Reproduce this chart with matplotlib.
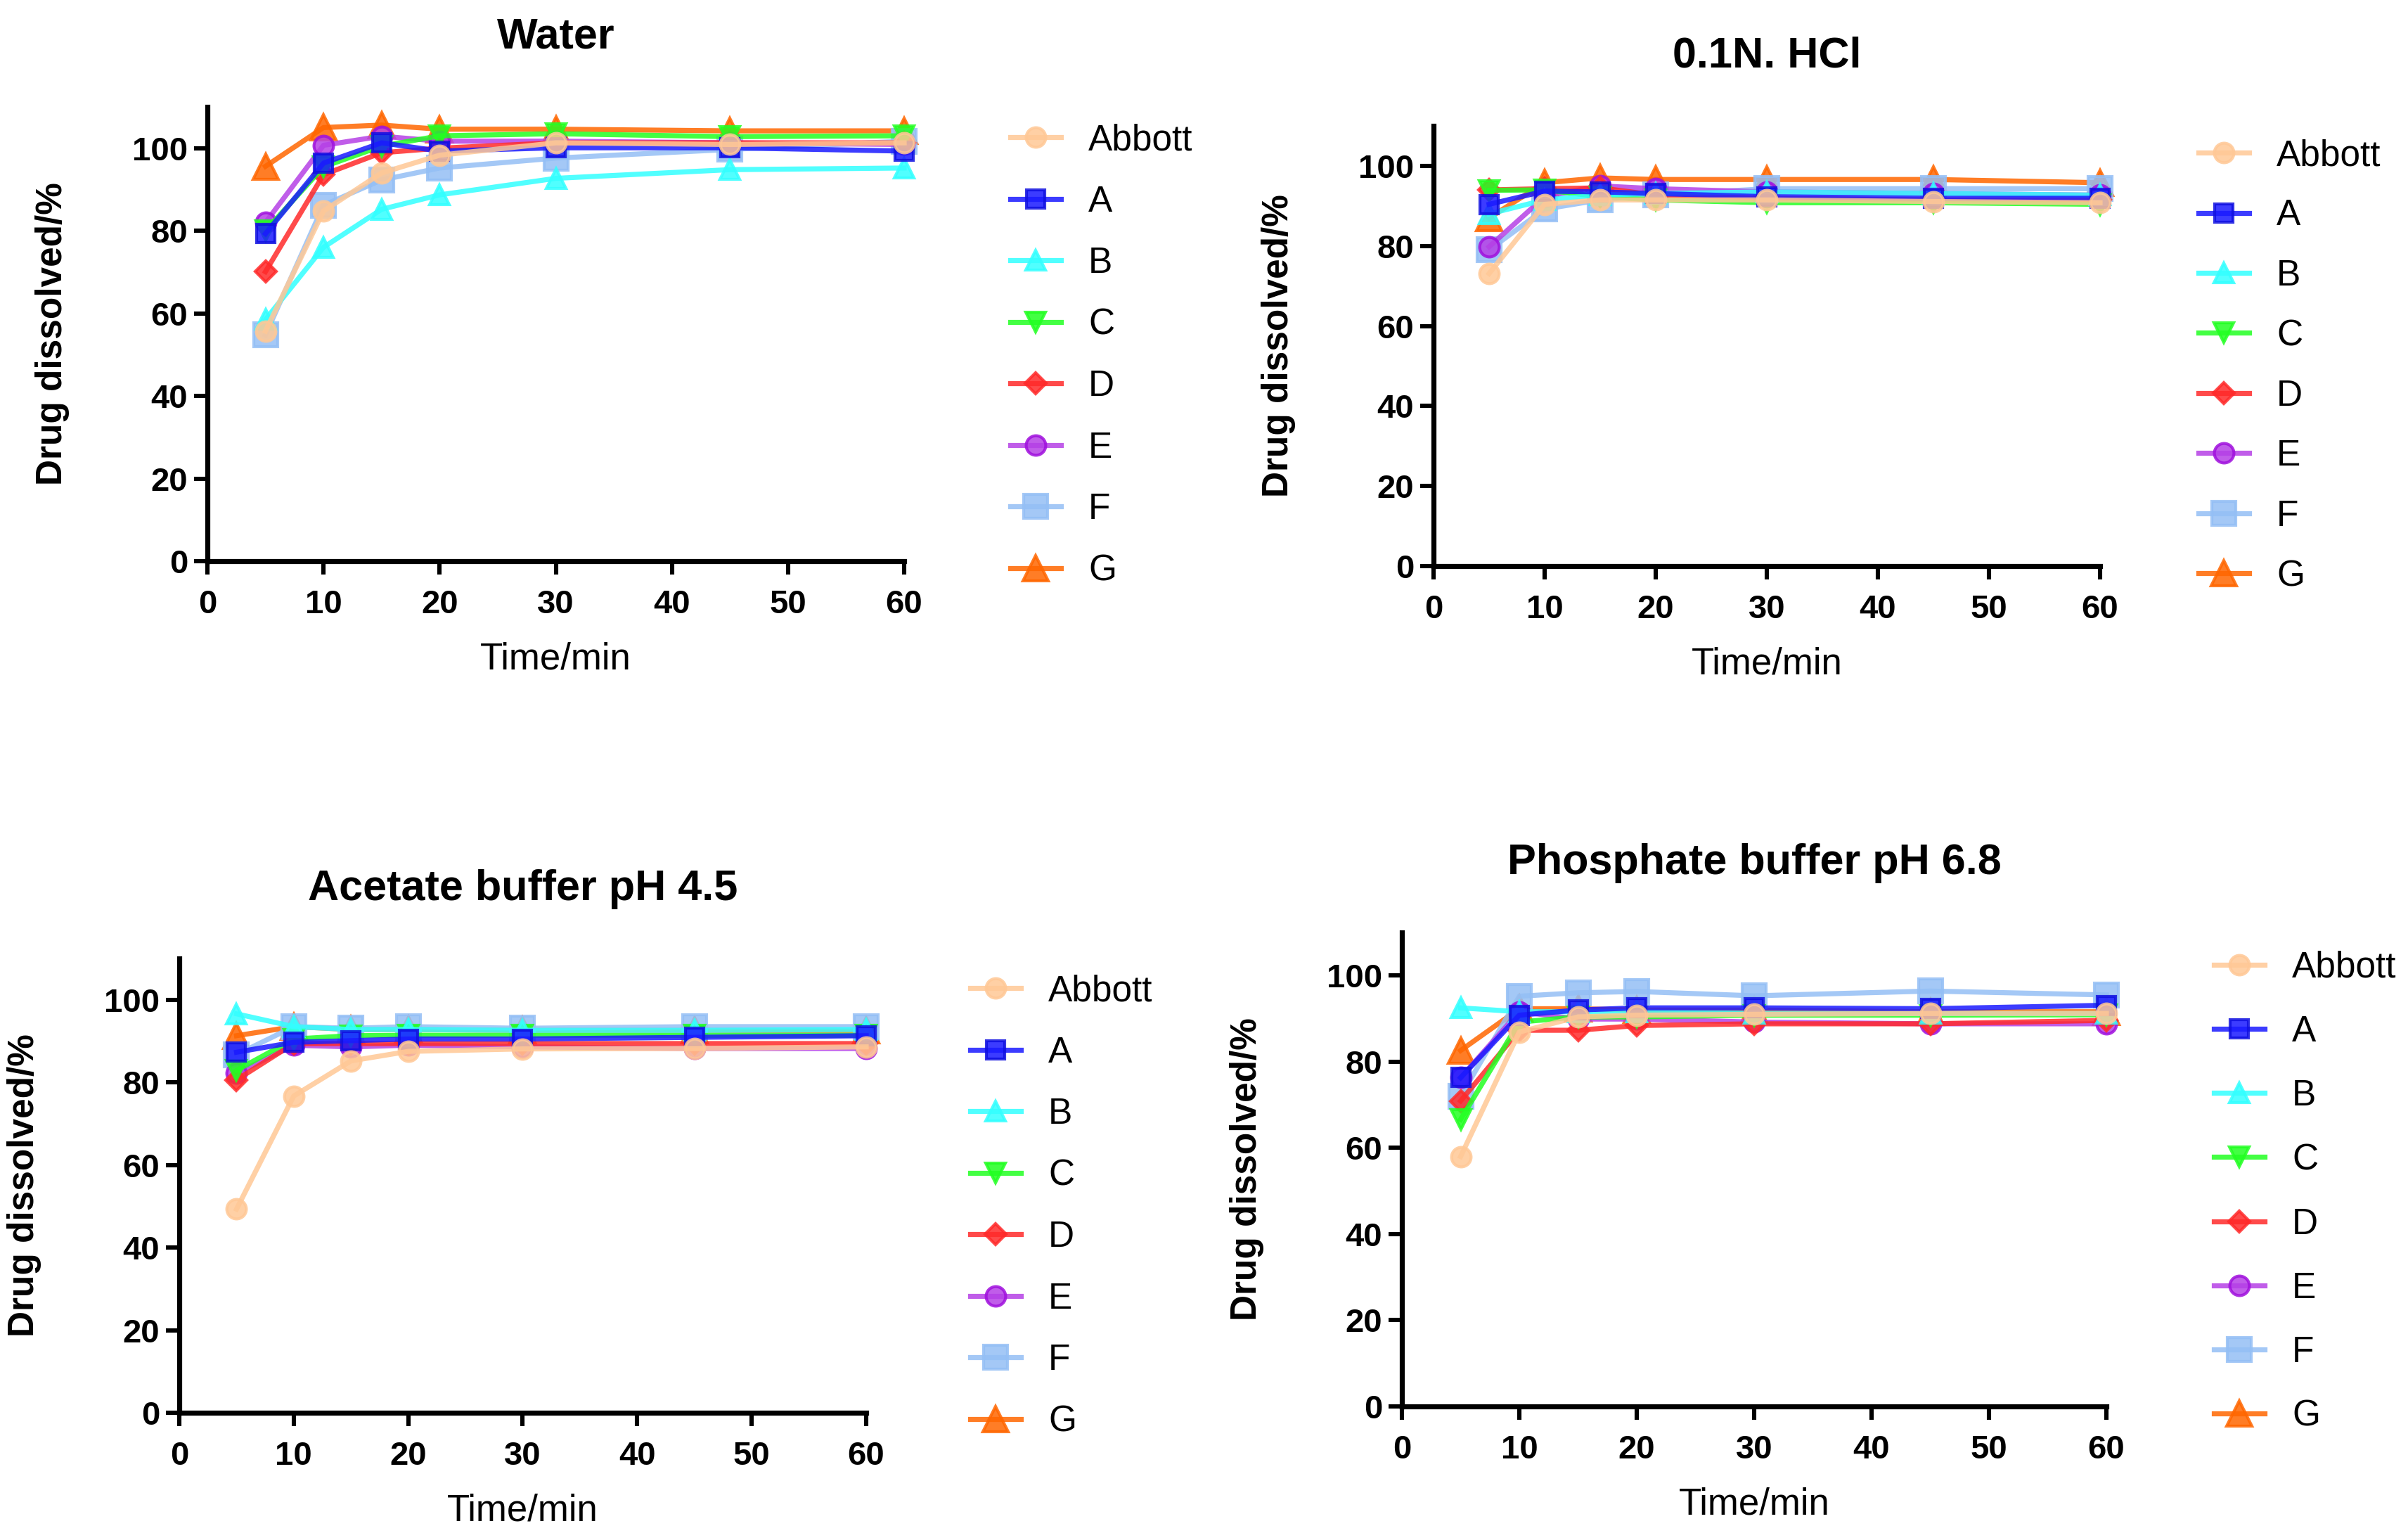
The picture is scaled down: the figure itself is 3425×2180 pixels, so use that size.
import matplotlib
matplotlib.use('Agg')
import matplotlib.pyplot as plt

# 시간(분)
time_min = [5, 10, 15, 20, 30, 45, 60]
names = ['Abbott', 'A', 'B', 'C', 'D', 'E', 'F', 'G']

# Water
water_abbott = [55.7, 84.8, 94.0, 98.3, 101.3, 100.9, 101.3]
water_a = [79.3, 96.4, 101.3, 99.3, 100.1, 100.1, 99.3]
water_b = [58.5, 76.0, 85.2, 88.7, 92.7, 94.8, 95.2]
water_c = [80.0, 95.5, 100.5, 103.0, 103.5, 102.8, 103.0]
water_d = [70.1, 93.6, 98.9, 100.0, 101.3, 101.3, 101.3]
water_e = [82.0, 100.7, 102.9, 101.7, 101.7, 101.3, 100.9]
water_f = [54.8, 86.2, 92.3, 95.2, 97.6, 99.7, 101.7]
water_g = [95.6, 105.0, 105.6, 104.6, 104.6, 104.2, 104.2]

# 0.1N HCl
hcl_abbott = [73.1, 90.4, 91.5, 91.5, 91.5, 91.1, 90.8]
hcl_a = [90.4, 93.7, 93.5, 93.1, 92.3, 91.9, 91.9]
hcl_b = [88.0, 91.5, 92.7, 93.1, 93.5, 93.1, 92.7]
hcl_c = [93.9, 94.0, 92.3, 91.5, 90.8, 90.8, 90.4]
hcl_d = [94.0, 94.3, 94.5, 92.7, 91.9, 91.5, 91.5]
hcl_e = [79.8, 92.3, 95.0, 94.3, 93.5, 93.1, 92.7]
hcl_f = [79.0, 89.2, 91.5, 92.7, 94.3, 94.3, 94.3]
hcl_g = [87.0, 95.8, 97.0, 96.6, 96.6, 96.6, 95.8]

# Acetate buffer pH 4.5
acet_abbott = [49.3, 76.7, 85.2, 87.5, 88.1, 88.2, 88.6]
acet_a = [87.3, 89.7, 90.1, 90.5, 90.5, 90.9, 91.3]
acet_b = [96.6, 93.5, 92.8, 92.8, 92.6, 92.6, 92.8]
acet_c = [82.9, 90.5, 91.3, 91.4, 91.4, 91.4, 91.4]
acet_d = [80.6, 89.4, 89.4, 89.4, 89.4, 89.4, 89.4]
acet_e = [82.2, 89.0, 88.6, 89.0, 88.6, 88.2, 88.2]
acet_f = [86.7, 93.5, 93.1, 93.5, 93.1, 93.5, 93.5]
acet_g = [91.3, 93.5, 92.8, 92.8, 92.6, 92.6, 92.6]

# Phosphate buffer pH 6.8
phos_abbott = [58.0, 86.9, 90.4, 90.8, 91.0, 91.2, 91.2]
phos_a = [76.3, 90.8, 92.0, 92.5, 92.5, 92.3, 93.1]
phos_b = [92.5, 91.6, 91.6, 91.6, 91.2, 91.2, 91.2]
phos_c = [66.6, 89.2, 90.4, 90.4, 90.8, 90.8, 90.9]
phos_d = [70.9, 87.3, 87.3, 88.4, 88.8, 88.8, 89.6]
phos_e = [76.3, 91.6, 89.9, 89.9, 89.2, 88.8, 88.8]
phos_f = [72.0, 95.2, 96.0, 96.3, 95.3, 96.4, 95.5]
phos_g = [82.6, 92.3, 92.3, 92.0, 92.0, 91.6, 91.6]

panels = [
    ('Water', [water_abbott, water_a, water_b, water_c, water_d, water_e, water_f, water_g]),
    ('0.1N. HCl', [hcl_abbott, hcl_a, hcl_b, hcl_c, hcl_d, hcl_e, hcl_f, hcl_g]),
    ('Acetate buffer pH 4.5', [acet_abbott, acet_a, acet_b, acet_c, acet_d, acet_e, acet_f, acet_g]),
    ('Phosphate buffer pH 6.8', [phos_abbott, phos_a, phos_b, phos_c, phos_d, phos_e, phos_f, phos_g]),
]

# 색 / 마커
colors = ['#ffc896', '#1a1aff', '#33ffff', '#22ff22', '#ff2a2a', '#b540e6', '#94bff5', '#ff6600']
edges = ['#ffc896', '#1010e0', '#33ffff', '#22ff22', '#ff2a2a', '#a010dd', '#94bff5', '#ff6600']
markers = ['o', 's', '^', 'v', 'D', 'o', 's', '^']
msizes = [10, 9.5, 10, 10, 7.5, 10, 12, 13]

W, H = 3425, 2180
fig = plt.figure(figsize=(W / 200, H / 200), dpi=200)

narrow = ['Liberation Sans Narrow', 'Liberation Sans', 'DejaVu Sans']
wide = ['Liberation Sans', 'DejaVu Sans']

# 축 위치 (픽셀: left, right, top, bottom)
boxes = [(295, 1286, 152, 798), (2039, 2987, 179, 805),
         (255, 1232, 1363, 2009), (1994, 2996, 1326, 2000)]
# 범례 위치 (픽셀: x, top) 와 줄 간격
legs = [(1437, 175, 0.75), (3127, 197, 0.71), (1380, 1385, 0.75), (3149, 1352, 0.82)]

for (title, series), (l, r, t, b), (lx, ly, ls) in zip(panels, boxes, legs):
    ax = fig.add_axes([l / W, 1 - b / H, (r - l) / W, (b - t) / H])
    handles = []
    for i in range(len(names) - 1, -1, -1):
        h, = ax.plot(time_min, series[i], color=colors[i], marker=markers[i],
                     markersize=msizes[i], markerfacecolor=colors[i],
                     markeredgecolor=edges[i], markeredgewidth=1.5,
                     linewidth=2.6, alpha=0.85, label=names[i], clip_on=False)
        handles.append(h)
    handles = handles[::-1]
    ax.set_xlim(0, 60)
    ax.set_ylim(0, 110)
    ax.set_xticks(range(0, 61, 10))
    ax.set_yticks(range(0, 101, 20))
    for s in ['top', 'right']:
        ax.spines[s].set_visible(False)
    for s in ['left', 'bottom']:
        ax.spines[s].set_linewidth(2.6)
    ax.tick_params(axis='both', direction='out', length=7, width=2.2)
    ax.tick_params(axis='x', pad=7.5)
    ax.tick_params(axis='y', pad=3)
    for lab in ax.get_xticklabels() + ax.get_yticklabels():
        lab.set_family(narrow)
        lab.set_fontweight('bold')
        lab.set_fontsize(17)
    ax.set_title(title, family=narrow, fontweight='bold', fontsize=22, pad=30)
    ax.set_xlabel('Time/min', family=narrow, fontsize=19, labelpad=11)
    ax.set_ylabel('Drug dissolved/%', family=wide, fontweight='bold', fontsize=18.5, labelpad=32)
    fig.legend(handles=handles, labels=names, loc='upper left',
               bbox_to_anchor=(lx / W, 1 - ly / H), frameon=False,
               borderpad=0, borderaxespad=0, handlelength=1.4, handletextpad=0.76,
               labelspacing=ls, prop={'family': wide, 'size': 18.5})

fig.savefig('out.png', dpi=200)
